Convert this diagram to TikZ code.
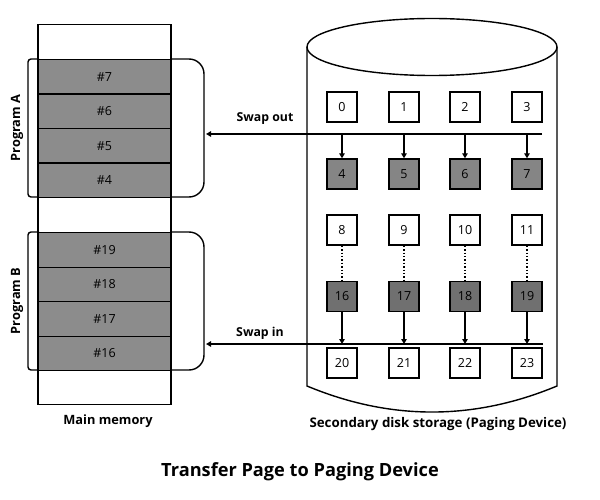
\documentclass[tikz,border=0pt]{standalone}
\usepackage{fontspec}
\setmainfont{Open Sans}
\usetikzlibrary{arrows.meta}
\definecolor{memgray}{HTML}{8C8C8C}
\definecolor{pagegray}{HTML}{858585}
\definecolor{darkpage}{HTML}{707070}
\tikzset{
  ln/.style={line width=1.4pt, black},
  cell/.style={draw=black, line width=1.4pt, fill=memgray, minimum width=133pt, minimum height=34.5pt, inner sep=0pt, font=\fontsize{12.5}{14}\selectfont, anchor=north},
  pg/.style={draw=black, line width=1.4pt, fill=white, minimum width=30pt, minimum height=30pt, inner sep=0pt, font=\fontsize{12.5}{14}\selectfont},
  pgA/.style={pg, fill=pagegray},
  pgB/.style={pg, fill=darkpage},
  arr/.style={ln, -{Triangle[length=5pt,width=5.5pt]}},
  lbl/.style={font=\bfseries\fontsize{12.3}{14}\selectfont},
  biglbl/.style={font=\bfseries\fontsize{12.8}{15}\selectfont},
}
\begin{document}
\begin{tikzpicture}[x=1pt,y=-1pt]
\useasboundingbox (0,0) rectangle (600,500);
% main memory
\node[draw=black, line width=1.4pt, minimum width=133pt, minimum height=380pt, inner sep=0pt, anchor=north] (mem) at (104.5,24) {};
% brackets (behind cells)
\draw[ln, rounded corners=3pt] (39,59) -- (28,59) -- (28,197) -- (39,197);
\draw[ln, rounded corners=15pt] (171,59) -- (204,59) -- (204,197) -- (171,197);
\draw[ln, rounded corners=3pt] (39,232) -- (28,232) -- (28,370) -- (39,370);
\draw[ln, rounded corners=15pt] (171,232) -- (204,232) -- (204,370) -- (171,370);
\node[cell] (m7) at (104.5,59) {\#7};
\node[cell] (m6) at (104.5,93.5) {\#6};
\node[cell] (m5) at (104.5,128) {\#5};
\node[cell] (m4) at (104.5,162.5) {\#4};
\node[cell] (m19) at (104.5,232) {\#19};
\node[cell] (m18) at (104.5,266.5) {\#18};
\node[cell] (m17) at (104.5,301) {\#17};
\node[cell] (m16) at (104.5,335.5) {\#16};
\node[biglbl, rotate=90] (pa) at (17,128) {Program A};
\node[biglbl, rotate=90] (pb) at (17,301) {Program B};
\node[biglbl] (mm) at (108,421) {Main memory};
% cylinder
\draw[ln] (307,47) -- (307,386) .. controls (390.3,420.7) and (473.7,420.7) .. (557,386) -- (557,47);
\draw[ln, fill=white] (432,47) ellipse [x radius=125, y radius=28.5];
% pages
\foreach \n/\x in {0/342,1/404,2/465,3/527}{\node[pg] (p\n) at (\x,107) {\n};}
\foreach \n/\x in {4/342,5/404,6/465,7/527}{\node[pgA] (p\n) at (\x,174) {\n};}
\foreach \n/\x in {8/342,9/404,10/465,11/527}{\node[pg] (p\n) at (\x,230) {\n};}
\foreach \n/\x in {16/342,17/404,18/465,19/527}{\node[pgB] (p\n) at (\x,296.5) {\n};}
\foreach \n/\x in {20/342,21/404,22/465,23/527}{\node[pg] (p\n) at (\x,363) {\n};}
% swap out
\coordinate (soR) at (542,134);
\coordinate (soL) at (206,134);
\draw[arr] (soR) -- (soL);
\foreach \n in {4,5,6,7}{\draw[arr] (p\n.north |- soR) -- (p\n.north);}
\node[lbl] (so) at (265,119) {Swap out};
% dotted
\foreach \a/\b in {8/16,9/17,10/18,11/19}{\draw[line width=1.4pt, dotted] (p\a.south) -- (p\b.north);}
% swap in
\coordinate (siR) at (543,344);
\coordinate (siL) at (206,344);
\draw[arr] (siR) -- (siL);
\foreach \n in {16,17,18,19}{\draw[arr] (p\n.south) -- (p\n.south |- siR);}
\node[lbl] (si) at (260,333) {Swap in};
\node[font=\bfseries\fontsize{13.3}{15}\selectfont] (sd) at (438,424) {Secondary disk storage (Paging Device)};
\node[font=\bfseries\fontsize{18.2}{20}\selectfont] (title) at (300,472) {Transfer Page to Paging Device};
\end{tikzpicture}
\end{document}
